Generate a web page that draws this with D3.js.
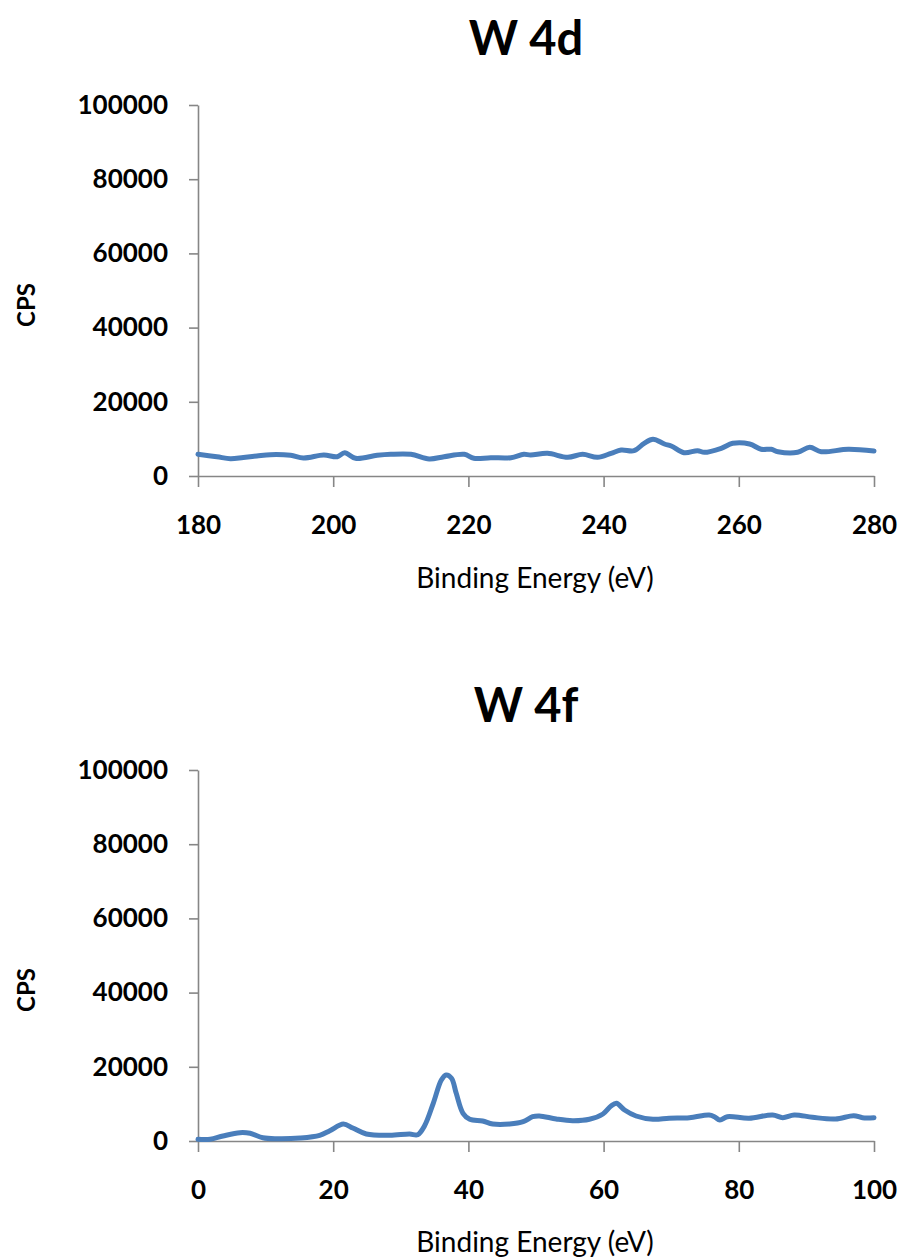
<!DOCTYPE html>
<html>
<head>
<meta charset="utf-8">
<script src="https://cdn.jsdelivr.net/npm/d3@7"></script>
<style>
  html, body { margin: 0; padding: 0; background: #fff; }
  svg { display: block; font-family: Lato, "Open Sans", sans-serif; }
</style>
</head>
<body>
<svg id="chart" width="902" height="1259"></svg>
<script>
// W 4d spectrum (binding energy in eV, counts per second)
const w4dEnergy = [180, 182.8, 184.8, 186.7, 188.7, 190.7, 193.7, 195.6, 198.6, 200.6, 201.7, 203.3,
  206.5, 208.5, 211.5, 214.2, 216.4, 219.4, 220.8, 223.3, 226.3, 228.2, 229.2, 231.7, 234.7, 236.9,
  239.1, 241.1, 242.6, 244.5, 246.0, 247.3, 249.0, 250.0, 251.9, 253.9, 254.9, 257.4, 259.1, 261.6,
  263.3, 264.8, 265.8, 268.7, 270.5, 272.2, 276.2, 280];
const w4dCps = [5850, 5200, 4660, 5000, 5390, 5750, 5570, 4850, 5660, 5200, 6280, 4770,
  5570, 5850, 5850, 4580, 5200, 5850, 4770, 4930, 4930, 5850, 5660, 6100, 5040, 5850,
  5040, 6100, 7000, 6820, 8800, 9900, 8630, 8090, 6280, 6820, 6390, 7470, 8810, 8630,
  7200, 7200, 6550, 6390, 7740, 6550, 7200, 6740];

// W 4f spectrum
const w4fEnergy = [0, 1.8, 3.7, 6.2, 7.7, 9.6, 11.6, 15.1, 18.0, 19.5, 21.5, 22.9, 24.9, 28.4,
  31.3, 32.5, 33.5, 34.8, 36.0, 36.7, 37.5, 38.2, 39.2, 40.2, 42.1, 43.6, 46.1, 48.1, 49.5,
  50.5, 53.0, 55.4, 57.9, 59.9, 61.1, 61.9, 63.1, 64.8, 67.3, 69.7, 72.7, 75.6, 76.4, 77.2,
  78.3, 81.5, 85.0, 86.5, 88.2, 90.9, 94.3, 97.0, 98.3, 100];
const w4fCps = [460, 460, 1350, 2240, 2070, 890, 620, 810, 1540, 2780, 4580, 3500, 1890, 1540,
  1890, 1700, 4040, 10160, 16440, 17790, 16900, 12860, 7470, 5850, 5390, 4580, 4580, 5200, 6550,
  6740, 5930, 5470, 5850, 7280, 9430, 10160, 8360, 6740, 5850, 6120, 6280, 7010, 6550, 5660,
  6550, 6120, 7010, 6280, 7010, 6390, 5930, 6820, 6280, 6280];

const cpsTicks = [0, 20000, 40000, 60000, 80000, 100000];
const w4dEnergyTicks = [180, 200, 220, 240, 260, 280];
const w4fEnergyTicks = [0, 20, 40, 60, 80, 100];

const svg = d3.select("#chart");
const axisColor = "#868686";
const lineColor = "#4a7ebb";

function drawPanel(opts) {
  const x = d3.scaleLinear().domain(opts.xDomain).range([198, 874]);
  const y = d3.scaleLinear().domain([0, 100000]).range([opts.yBottom, opts.yTop]);
  const g = svg.append("g");

  // title
  g.append("text")
    .attr("x", 526).attr("y", opts.titleY)
    .attr("text-anchor", "middle")
    .attr("font-size", 47).attr("font-weight", 700).attr("fill", "#000")
    .text(opts.title);

  // y axis
  const yAxis = g.append("g")
    .attr("transform", "translate(198,0)")
    .call(d3.axisLeft(y).tickValues(cpsTicks).tickSize(9).tickSizeOuter(0).tickPadding(21)
      .tickFormat(d3.format("d")));
  // x axis
  const xAxis = g.append("g")
    .attr("transform", `translate(0,${opts.yBottom})`)
    .call(d3.axisBottom(x).tickValues(opts.xTicks).tickSize(11).tickSizeOuter(0).tickPadding(29)
      .tickFormat(d3.format("d")));

  [yAxis, xAxis].forEach(ax => {
    ax.select(".domain").attr("stroke", axisColor).attr("stroke-width", 1.6);
    ax.selectAll(".tick line").attr("stroke", axisColor).attr("stroke-width", 1.6);
    ax.selectAll(".tick text")
      .attr("font-family", "Lato, 'Open Sans', sans-serif")
      .attr("font-size", 26).attr("font-weight", 700).attr("fill", "#000");
  });

  // axis titles
  g.append("text")
    .attr("x", 535).attr("y", opts.xLabelY)
    .attr("text-anchor", "middle")
    .attr("font-size", 28).attr("fill", "#000")
    .text("Binding Energy (eV)");
  g.append("text")
    .attr("transform", `translate(35,${opts.cpsY}) rotate(-90)`)
    .attr("text-anchor", "middle")
    .attr("font-size", 24).attr("font-weight", 700).attr("fill", "#000")
    .text("CPS");

  // spectrum
  const line = d3.line()
    .x((d, i) => x(opts.energy[i]))
    .y(d => y(d))
    .curve(d3.curveCatmullRom.alpha(0.5));
  g.append("path")
    .datum(opts.cps)
    .attr("d", line)
    .attr("fill", "none")
    .attr("stroke", lineColor)
    .attr("stroke-width", 5)
    .attr("stroke-linejoin", "round")
    .attr("stroke-linecap", "round");
}

drawPanel({
  title: "W 4d", titleY: 55, yTop: 105, yBottom: 476,
  xDomain: [180, 280], xTicks: w4dEnergyTicks,
  energy: w4dEnergy, cps: w4dCps, xLabelY: 588, cpsY: 305
});
drawPanel({
  title: "W 4f", titleY: 722, yTop: 770, yBottom: 1141,
  xDomain: [0, 100], xTicks: w4fEnergyTicks,
  energy: w4fEnergy, cps: w4fCps, xLabelY: 1252, cpsY: 990
});
</script>
</body>
</html>
